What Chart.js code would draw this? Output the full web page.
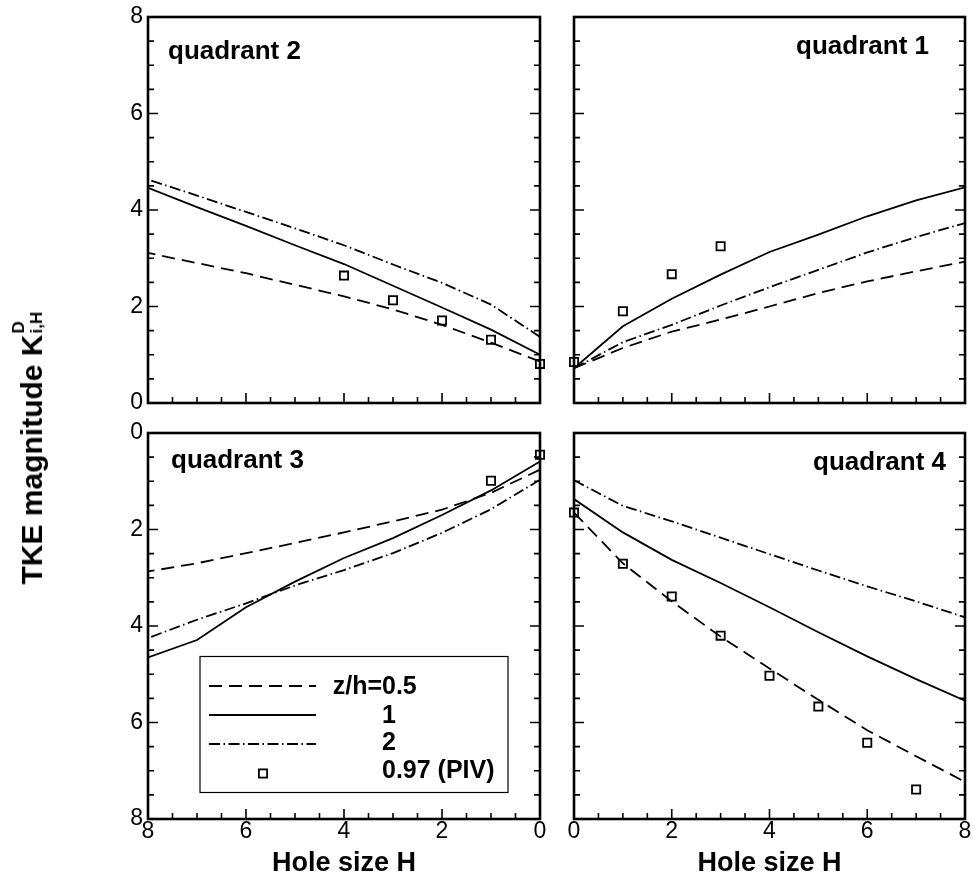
<!DOCTYPE html>
<html>
<head>
<meta charset="utf-8">
<title>TKE magnitude by quadrant</title>
<script src="https://cdn.jsdelivr.net/npm/chart.js@4.4.1/dist/chart.umd.min.js"></script>
<style>
  body { margin: 0; background: #fff; overflow: hidden; }
  #page { position: relative; width: 973px; height: 884px; font-family: 'Liberation Sans', Arial, Helvetica, sans-serif; }
  #page canvas { position: absolute; left: 0; top: 0; }
  #ytitle {
    position: absolute; left: 32px; top: 448px;
    transform: translate(-50%, -50%) rotate(-90deg);
    white-space: nowrap; font-weight: bold; font-size: 30px; line-height: 30px; color: #000;
  }
  #ytitle .ss { position: relative; display: inline-block; width: 23px; height: 0; }
  #ytitle .ss span { position: absolute; left: 1px; font-size: 17px; line-height: 1; }
  #ytitle .ss .up { top: -32px; }
  #ytitle .ss .dn { top: -14px; }
</style>
</head>
<body>
<div id="page">
  <canvas id="q2" width="973" height="884"></canvas>
  <canvas id="q1" width="973" height="884"></canvas>
  <canvas id="q3" width="973" height="884"></canvas>
  <canvas id="q4" width="973" height="884"></canvas>
  <div id="ytitle">TKE magnitude K<span class="ss"><span class="up">D</span><span class="dn">i,H</span></span></div>
</div>
<script>
// hole size H along x, one value per line point
var holeSize = [0, 1, 2, 3, 4, 5, 6, 7, 8];
var zLevels = ['0.5', '1', '2'];
var pivLabel = '0.97 (PIV)';
var tickValues = [0, 2, 4, 6, 8];

// quadrant 1
var q1Half = [0.72, 1.14, 1.48, 1.73, 2.00, 2.28, 2.52, 2.73, 2.93];
var q1One  = [0.72, 1.59, 2.16, 2.66, 3.13, 3.49, 3.87, 4.20, 4.47];
var q1Two  = [0.72, 1.26, 1.62, 2.02, 2.40, 2.76, 3.12, 3.44, 3.73];
var q1PivH = [0, 1, 2, 3];
var q1Piv  = [0.85, 1.90, 2.67, 3.25];

// quadrant 2
var q2Half = [0.86, 1.25, 1.62, 1.94, 2.21, 2.45, 2.69, 2.90, 3.11];
var q2One  = [1.00, 1.52, 1.98, 2.43, 2.88, 3.27, 3.67, 4.06, 4.46];
var q2Two  = [1.37, 2.04, 2.49, 2.87, 3.27, 3.62, 3.96, 4.30, 4.63];
var q2PivH = [0, 1, 2, 3, 4];
var q2Piv  = [0.81, 1.31, 1.71, 2.13, 2.64];

// quadrant 3
var q3Half = [0.76, 1.24, 1.59, 1.83, 2.06, 2.28, 2.49, 2.70, 2.87];
var q3One  = [0.59, 1.19, 1.70, 2.18, 2.59, 3.08, 3.61, 4.29, 4.65];
var q3Two  = [0.97, 1.58, 2.07, 2.49, 2.84, 3.16, 3.53, 3.87, 4.25];
var q3PivH = [0, 1];
var q3Piv  = [0.45, 0.99];

// quadrant 4
var q4Half = [1.65, 2.70, 3.49, 4.22, 4.88, 5.53, 6.16, 6.70, 7.23];
var q4One  = [1.37, 2.06, 2.63, 3.11, 3.61, 4.13, 4.63, 5.10, 5.55];
var q4Two  = [0.98, 1.51, 1.83, 2.17, 2.51, 2.85, 3.18, 3.49, 3.82];
var q4PivH = [0, 1, 2, 3, 4, 5, 6, 7];
var q4Piv  = [1.65, 2.71, 3.39, 4.20, 5.03, 5.67, 6.42, 7.39];

var FONT = "'Liberation Sans', Arial, Helvetica, sans-serif";
var dashed = [13, 7];
var dashDot = [11, 3.5, 1.5, 3.5];

function lineSet(label, values, dash) {
  return {
    label: label,
    data: holeSize.map(function(h, i) { return {x: h, y: values[i]}; }),
    showLine: true,
    borderColor: '#000',
    borderWidth: 1.8,
    borderDash: dash,
    pointRadius: 0,
    pointHoverRadius: 0
  };
}

function pivSet(hs, values) {
  return {
    label: pivLabel,
    data: hs.map(function(h, i) { return {x: h, y: values[i]}; }),
    showLine: false,
    pointStyle: 'rect',
    pointRadius: 5.8,
    pointBorderWidth: 1.8,
    pointBorderColor: '#000',
    pointBackgroundColor: 'rgba(0,0,0,0)',
    clip: false
  };
}

// box round the plot plus inward ticks on left, right and bottom
var framePlugin = {
  id: 'frame',
  beforeDatasetsDraw: function(chart) {
    var a = chart.chartArea, ctx = chart.ctx;
    var xs = chart.scales.x, ys = chart.scales.y;
    ctx.save();
    ctx.strokeStyle = '#000';
    ctx.lineWidth = 1.6;
    ctx.beginPath();
    for (var i = 0; i <= 16; i++) {
      var v = i / 2;
      var len = (i % 4 === 0) ? 10 : 6;
      var py = ys.getPixelForValue(v);
      ctx.moveTo(a.left, py); ctx.lineTo(a.left + len, py);
      ctx.moveTo(a.right, py); ctx.lineTo(a.right - len, py);
      var px = xs.getPixelForValue(v);
      ctx.moveTo(px, a.bottom); ctx.lineTo(px, a.bottom - len);
    }
    ctx.stroke();
    ctx.lineWidth = 2.6;
    ctx.strokeRect(a.left, a.top, a.right - a.left, a.bottom - a.top);
    ctx.restore();
  }
};

// "quadrant n" caption inside the plot
var captionPlugin = {
  id: 'caption',
  afterDraw: function(chart, args, opts) {
    if (!opts.text) return;
    var a = chart.chartArea, ctx = chart.ctx;
    ctx.save();
    ctx.font = 'bold 26px ' + FONT;
    ctx.fillStyle = '#000';
    ctx.textBaseline = 'alphabetic';
    if (opts.side === 'right') {
      ctx.textAlign = 'right';
      ctx.fillText(opts.text, a.right - opts.dx, a.top + opts.dy);
    } else {
      ctx.textAlign = 'left';
      ctx.fillText(opts.text, a.left + opts.dx, a.top + opts.dy);
    }
    ctx.restore();
  }
};

// boxed key drawn from the dataset styles
var keyPlugin = {
  id: 'key',
  afterDraw: function(chart, args, opts) {
    if (!opts.show) return;
    var a = chart.chartArea, ctx = chart.ctx;
    var bx = a.left + 52, by = a.top + 223.5, bw = 308, bh = 136;
    var sets = chart.data.datasets;
    var rows = [29.5, 58.5, 87.5, 117];
    var bases = [37.5, 66, 93.5, 121.5];
    var valueX = bx + 182;
    ctx.save();
    ctx.fillStyle = '#fff';
    ctx.fillRect(bx, by, bw, bh);
    ctx.strokeStyle = '#000';
    ctx.lineWidth = 1.2;
    ctx.strokeRect(bx, by, bw, bh);
    ctx.font = 'bold 25px ' + FONT;
    ctx.fillStyle = '#000';
    ctx.textBaseline = 'alphabetic';
    for (var i = 0; i < sets.length; i++) {
      var ds = sets[i];
      var y = by + rows[i];
      if (ds.showLine) {
        ctx.save();
        ctx.lineWidth = ds.borderWidth;
        ctx.setLineDash(ds.borderDash || []);
        ctx.beginPath();
        ctx.moveTo(bx + 9, y);
        ctx.lineTo(bx + 116, y);
        ctx.stroke();
        ctx.restore();
      } else {
        var s = ds.pointRadius * Math.SQRT1_2;
        ctx.lineWidth = ds.pointBorderWidth;
        ctx.strokeRect(bx + 63 - s, y - s, 2 * s, 2 * s);
      }
      var txt = i < zLevels.length ? zLevels[i] : pivLabel;
      ctx.textAlign = 'left';
      ctx.fillText(txt, valueX, by + bases[i]);
      if (i === 0) {
        ctx.textAlign = 'right';
        ctx.fillText('z/h=', valueX, by + bases[i]);
      }
    }
    ctx.restore();
  }
};

function makeQuadrant(id, p) {
  var tickFont = {family: FONT, size: 23, lineHeight: 1};
  return new Chart(document.getElementById(id), {
    type: 'scatter',
    data: {
      datasets: [
        lineSet('z/h=' + zLevels[0], p.half, dashed),
        lineSet('z/h=' + zLevels[1], p.one, []),
        lineSet('z/h=' + zLevels[2], p.two, dashDot),
        pivSet(p.pivH, p.piv)
      ]
    },
    options: {
      responsive: false,
      animation: false,
      devicePixelRatio: 1,
      events: [],
      layout: { padding: p.pad },
      plugins: {
        legend: { display: false },
        tooltip: { enabled: false },
        caption: p.caption,
        key: { show: !!p.key }
      },
      scales: {
        x: {
          type: 'linear', min: 0, max: 8, reverse: !!p.xRev,
          grid: { display: false, drawTicks: false },
          border: { display: false },
          ticks: {
            display: !!p.xLabels, stepSize: 2, padding: 1, maxRotation: 0,
            color: '#000', font: tickFont,
            callback: function(v) { return tickValues.indexOf(v) >= 0 ? String(v) : ''; }
          },
          title: {
            display: !!p.xLabels, text: 'Hole size H', color: '#000', padding: 0,
            font: {family: FONT, size: 27, weight: 'bold', lineHeight: 1.2}
          },
          afterFit: function(s) { s.height = p.xLabels ? 61 : 0; }
        },
        y: {
          type: 'linear', min: 0, max: 8, reverse: !!p.yRev,
          grid: { display: false, drawTicks: false },
          border: { display: false },
          ticks: {
            display: !!p.yLabels, stepSize: 2, padding: 5,
            color: '#000', font: tickFont
          },
          afterFit: function(s) { s.width = p.yLabels ? 60 : 0; }
        }
      }
    },
    plugins: [framePlugin, captionPlugin, keyPlugin]
  });
}

makeQuadrant('q2', {
  half: q2Half, one: q2One, two: q2Two, pivH: q2PivH, piv: q2Piv,
  xRev: true, yLabels: true,
  pad: {left: 88, right: 433, top: 17, bottom: 481},
  caption: {text: 'quadrant 2', side: 'left', dx: 20, dy: 42}
});
makeQuadrant('q1', {
  half: q1Half, one: q1One, two: q1Two, pivH: q1PivH, piv: q1Piv,
  pad: {left: 574, right: 8, top: 17, bottom: 481},
  caption: {text: 'quadrant 1', side: 'right', dx: 36, dy: 37}
});
makeQuadrant('q3', {
  half: q3Half, one: q3One, two: q3Two, pivH: q3PivH, piv: q3Piv,
  xRev: true, yRev: true, xLabels: true, yLabels: true, key: true,
  pad: {left: 88, right: 433, top: 433, bottom: 4},
  caption: {text: 'quadrant 3', side: 'left', dx: 23, dy: 35}
});
makeQuadrant('q4', {
  half: q4Half, one: q4One, two: q4Two, pivH: q4PivH, piv: q4Piv,
  yRev: true, xLabels: true,
  pad: {left: 574, right: 8, top: 433, bottom: 4},
  caption: {text: 'quadrant 4', side: 'right', dx: 19, dy: 37}
});
</script>
</body>
</html>
